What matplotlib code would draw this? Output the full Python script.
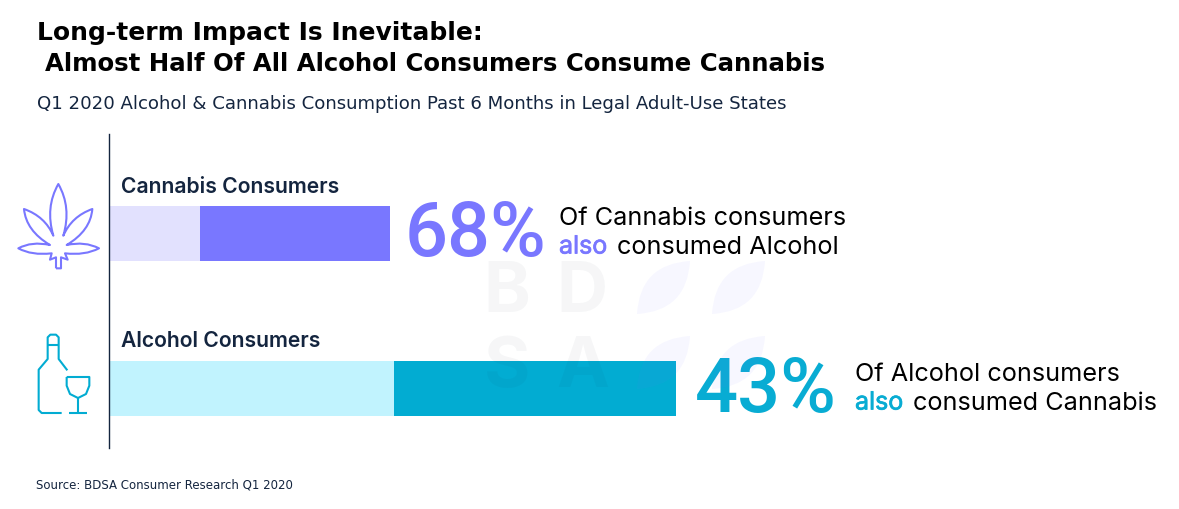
import matplotlib
matplotlib.use("Agg")
import matplotlib.pyplot as plt
from matplotlib.path import Path
from matplotlib.patches import PathPatch
import matplotlib.patheffects as pe

W, H = 1179, 510
categories = ["Cannabis Consumers", "Alcohol Consumers"]
other_segment = [91, 285]
overlap_segment = [190, 282]
percent_labels = ["68%", "43%"]
line_one = ["Of Cannabis consumers", "Of Alcohol consumers"]
line_two = ["consumed Alcohol", "consumed Cannabis"]
light_colors = ["#e2e1fe", "#c1f3fe"]
dark_colors = ["#7977ff", "#02acd2"]
pct_colors = ["#7977ff", "#08acd3"]
NAVY = "#14253f"

fig = plt.figure(figsize=(W / 100, H / 100), dpi=100, facecolor="white")

# bars
ax = fig.add_axes([109 / W, 1 - 448.5 / H, 1 - 109 / W, (448.5 - 134.5) / H])
ax.set_xlim(0, W - 109)
ax.set_ylim((448.5 - 234.3) / 155, (134.5 - 234.3) / 155)
ypos = range(len(categories))
ax.barh(ypos, other_segment, height=55 / 155, color=light_colors, linewidth=0)
ax.barh(ypos, overlap_segment, left=other_segment, height=55 / 155, color=dark_colors, linewidth=0)
for s in ["top", "right", "bottom"]:
    ax.spines[s].set_visible(False)
ax.spines["left"].set_color(NAVY)
ax.spines["left"].set_linewidth(1.0)
ax.set_xticks([])
ax.set_yticks([])
ax.patch.set_alpha(0)

# overlay in pixel coordinates
ov = fig.add_axes([0, 0, 1, 1])
ov.set_xlim(0, W)
ov.set_ylim(H, 0)
ov.axis("off")
ov.patch.set_alpha(0)

ov.text(37, 33, "Long-term Impact Is Inevitable:", family="DejaVu Sans", weight="bold",
        fontsize=18.0, color="black", va="center", ha="left")
ov.text(45, 64, "Almost Half Of All Alcohol Consumers Consume Cannabis", family="DejaVu Sans",
        weight="bold", fontsize=17.6, color="black", va="center", ha="left")
ov.text(37, 104, "Q1 2020 Alcohol & Cannabis Consumption Past 6 Months in Legal Adult-Use States",
        family="DejaVu Sans", fontsize=13.1, color=NAVY, va="center", ha="left")
ov.text(36, 485.5, "Source: BDSA Consumer Research Q1 2020", family="DejaVu Sans", fontsize=8.46,
        color=NAVY, va="center", ha="left")

label_y = [187, 341]
pct_x = [405, 695]
pct_y = [236, 392]
note_x = [559, 855]
note_y1 = [219, 375]
note_y2 = [248, 404]
also_w = [58, 58]
for i, c in enumerate(categories):
    ov.text(121, label_y[i], c, family="Inter", weight="semibold", fontsize=15.2, color=NAVY,
            va="center", ha="left")
    ov.text(pct_x[i], pct_y[i], percent_labels[i], family="Roboto", weight="medium", fontsize=54.5,
            color=pct_colors[i], va="center", ha="left")
    ov.text(note_x[i], note_y1[i], line_one[i], family="Inter", fontsize=18.2, color="black",
            va="center", ha="left")
    ov.text(note_x[i], note_y2[i], "also", family="Inter", fontsize=18.0,
            color=pct_colors[i], va="center", ha="left",
            path_effects=[pe.withStroke(linewidth=0.5, foreground=pct_colors[i])])
    ov.text(note_x[i] + also_w[i], note_y2[i], line_two[i], family="Inter", fontsize=18.2,
            color="black", va="center", ha="left")

# watermark
wm = dict(family="Inter", weight="bold", fontsize=51, color="#1b2b45", alpha=0.04, va="center",
          ha="center", zorder=5)
for t, x, y in [("B", 507, 294), ("D", 582, 294), ("S", 507, 369), ("A", 583, 369)]:
    ov.text(x, y, t, **wm)
for x0 in [637, 712]:
    for y0 in [315, 390]:
        v = [(x0, y0), (x0 + 3, y0 - 50), (x0 + 53, y0 - 53), (x0 + 50, y0 - 3), (x0, y0)]
        ov.add_patch(PathPatch(Path(v, [Path.MOVETO, Path.CURVE3, Path.CURVE3, Path.CURVE3, Path.CURVE3]),
                               facecolor="#7977ff", alpha=0.06, linewidth=0, zorder=5))

# cannabis icon (zoom coordinates: px*3, y offset 130)
def z(x, y):
    return (x / 3, 130 + y / 3)

M, L, Q = Path.MOVETO, Path.LINETO, Path.CURVE3
leaf = [
    (M, 168, 418), (L, 168, 385), (L, 150, 392), (L, 155, 373), (Q, 95, 380), (Q, 55, 358),
    (Q, 95, 336), (Q, 150, 348), (Q, 78, 305), (Q, 72, 240), (Q, 135, 262), (Q, 160, 320),
    (Q, 135, 235), (Q, 175, 165), (Q, 215, 235), (Q, 190, 320), (Q, 215, 262), (Q, 277, 240),
    (Q, 272, 305), (Q, 200, 348), (Q, 255, 336), (Q, 297, 358), (Q, 255, 380), (Q, 195, 373),
    (L, 203, 392), (L, 183, 385), (L, 183, 418), (L, 168, 418),
]
codes, verts = [], []
for item in leaf:
    codes.append(item[0])
    verts.append(z(item[1], item[2]))
ov.add_patch(PathPatch(Path(verts, codes), facecolor="none", edgecolor="#7977ff", linewidth=1.5,
                       joinstyle="round"))

# bottle and glass (zoom coordinates, y offset 320)
def z2(x, y):
    return (x / 3, 320 + y / 3)

def stroke(pts):
    xs, ys = zip(*[z2(*p) for p in pts])
    ov.plot(xs, ys, color="#02acd2", linewidth=1.5, solid_capstyle="butt", solid_joinstyle="round")

stroke([(185, 282), (125, 282), (116, 273), (116, 152), (143, 120), (143, 55), (151, 47),
        (168, 47), (176, 55), (176, 120), (202, 154)])
stroke([(143, 77), (176, 77)])
stroke([(200, 174), (268, 174), (268, 200), (258, 225), (234, 237), (210, 225), (200, 200), (200, 174)])
stroke([(234, 237), (234, 282)])
stroke([(207, 282), (261, 282)])

fig.savefig("out.png", dpi=100)
